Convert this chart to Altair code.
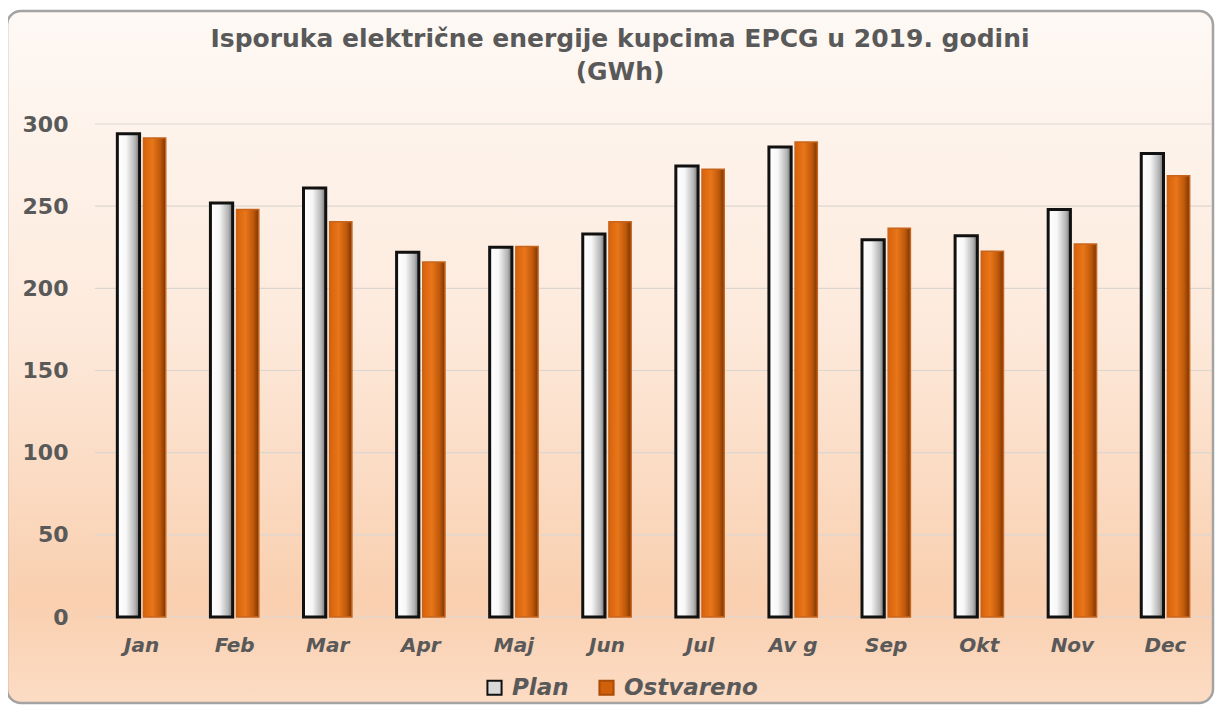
import altair as alt
import pandas as pd

months = ["Jan", "Feb", "Mar", "Apr", "Maj", "Jun", "Jul", "Av g", "Sep", "Okt", "Nov", "Dec"]
plan = [294, 252, 261, 222, 225, 233, 274.5, 286, 229.5, 232, 248, 282]
ostvareno = [291.5, 248, 240.5, 216, 225.5, 240.5, 272.5, 289, 236.5, 222.5, 227, 268.5]
series = ["Plan", "Ostvareno"]
y_ticks = [0, 50, 100, 150, 200, 250, 300]
title_lines = ["Isporuka električne energije kupcima EPCG u 2019. godini", "(GWh)"]

rows = []
for m, p, o in zip(months, plan, ostvareno):
    rows.append({"month": m, "series": "Plan", "value": p})
    rows.append({"month": m, "series": "Ostvareno", "value": o})
df = pd.DataFrame(rows)

W, H = 1117, 493
FONT = "DejaVu Sans"
TXT = "#595959"

x_enc = alt.X("month:N", sort=months, title=None,
              scale=alt.Scale(paddingInner=0.48, paddingOuter=0.24),
              axis=alt.Axis(labelFont=FONT, labelFontSize=20, labelFontWeight="bold",
                            labelFontStyle="italic", labelColor=TXT, labelPadding=18,
                            ticks=False, domain=False, labelAngle=0, grid=False, zindex=2))
y_enc = alt.Y("value:Q", title=None,
              scale=alt.Scale(domain=[0, 300], nice=False),
              axis=alt.Axis(values=y_ticks, labelFont=FONT, labelFontSize=22,
                            labelFontWeight="bold", labelColor=TXT, labelPadding=27,
                            ticks=False, domain=False, grid=False, zindex=2))
xo_enc = alt.XOffset("series:N", sort=series,
                     scale=alt.Scale(domain=series, paddingInner=0.15, paddingOuter=0))

bg_grad = alt.Gradient(gradient="linear", x1=0, x2=0, y1=0, y2=1,
                       stops=[alt.GradientStop(color="#fef9f5", offset=0),
                              alt.GradientStop(color="#fdeadc", offset=0.45),
                              alt.GradientStop(color="#f9cfaf", offset=0.85),
                              alt.GradientStop(color="#fcdcc4", offset=1)])
plan_grad = alt.Gradient(gradient="linear", x1=0, x2=1, y1=0, y2=0,
                         stops=[alt.GradientStop(color="#ffffff", offset=0),
                                alt.GradientStop(color="#f7f7f7", offset=0.4),
                                alt.GradientStop(color="#b4b4b4", offset=0.8),
                                alt.GradientStop(color="#6e6e6e", offset=1)])
ost_grad = alt.Gradient(gradient="linear", x1=0, x2=1, y1=0, y2=0,
                        stops=[alt.GradientStop(color="#d9620a", offset=0),
                               alt.GradientStop(color="#e8761a", offset=0.4),
                               alt.GradientStop(color="#c0590a", offset=0.75),
                               alt.GradientStop(color="#7a3505", offset=1)])

card = alt.Chart(pd.DataFrame({"a": [0]})).mark_rect(
    cornerRadius=14, stroke="#a3a3a3", strokeWidth=2.5, fill=bg_grad
).encode(x=alt.value(-88), x2=alt.value(W + 1), y=alt.value(-113), y2=alt.value(579))

title = alt.Chart(pd.DataFrame({"a": [0]})).mark_text(
    text=title_lines, font=FONT, fontSize=25, fontWeight="bold", color=TXT,
    align="center", baseline="top", lineHeight=33
).encode(x=alt.value(525), y=alt.value(-97))

grid = alt.Chart(pd.DataFrame({"value": y_ticks})).mark_rule(
    color="#dcd6d1", strokeWidth=1.2
).encode(y=y_enc, x=alt.value(0), x2=alt.value(W))

base = alt.Chart(df)

plan_bars = base.transform_filter(alt.datum.series == "Plan").mark_bar(
    stroke="#111111", strokeWidth=3, fill=plan_grad
).encode(x=x_enc, xOffset=xo_enc, y=y_enc)

ost_bars = base.transform_filter(alt.datum.series == "Ostvareno").mark_bar(
    stroke="#c8651c", strokeWidth=1.5, fill=ost_grad
).encode(x=x_enc, xOffset=xo_enc, y=y_enc)

legend_layer = base.mark_point(shape="square", filled=True, size=1).encode(
    x=x_enc, xOffset=xo_enc, y=y_enc,
    fill=alt.Fill("series:N", sort=series,
                  scale=alt.Scale(domain=series, range=["#d9d9d9", "#d0600a"]),
                  legend=alt.Legend(title=None, orient="none", legendX=388, legendY=552,
                                    direction="horizontal", symbolType="square",
                                    symbolSize=200, symbolOpacity=1, symbolStrokeWidth=2,
                                    labelFont=FONT, labelFontSize=23, labelFontWeight="bold",
                                    labelFontStyle="italic", labelColor=TXT,
                                    columnPadding=26, labelOffset=6)),
    stroke=alt.Stroke("series:N", sort=series,
                      scale=alt.Scale(domain=series, range=["#111111", "#a94c08"]),
                      legend=None),
    opacity=alt.value(0),
)

chart = alt.layer(card, title, grid, plan_bars, ost_bars, legend_layer).properties(
    width=W, height=H,
    autosize=alt.AutoSizeParams(type="none"),
    padding={"left": 87, "top": 116, "right": 3, "bottom": 88},
    background="white",
).configure_view(stroke=None)

chart.save("out.html", embed_options={"renderer": "svg", "actions": False})
